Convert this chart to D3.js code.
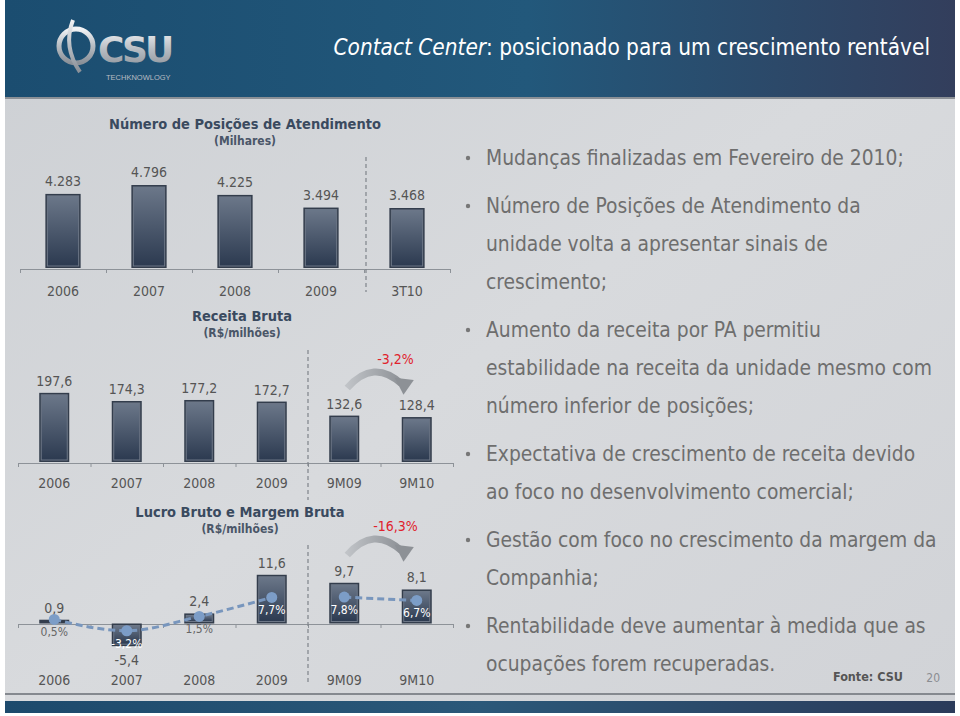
<!DOCTYPE html>
<html>
<head>
  <meta charset="utf-8">
  <title>Contact Center</title>
  <script src="https://d3js.org/d3.v7.min.js"></script>
  <style>
    body { margin: 0; background: #fff; }
    svg { display: block; }
  </style>
</head>
<body>
<script>
  // --- data ---
  const posCats = ["2006", "2007", "2008", "2009", "3T10"];
  const posVals = [4283, 4796, 4225, 3494, 3468];

  const recCats = ["2006", "2007", "2008", "2009", "9M09", "9M10"];
  const recVals = [197.6, 174.3, 177.2, 172.7, 132.6, 128.4];
  const recChange = "-3,2%";

  const lucroCats = ["2006", "2007", "2008", "2009", "9M09", "9M10"];
  const lucroVals = [0.9, -5.4, 2.4, 11.6, 9.7, 8.1];
  const margemVals = [0.5, -3.2, 1.5, 7.7, 7.8, 6.7];
  const lucroChange = "-16,3%";

  const bullets = [
    ["Mudanças finalizadas em Fevereiro de 2010;"],
    ["Número de Posições de Atendimento da", "unidade volta a apresentar sinais de", "crescimento;"],
    ["Aumento da receita por PA permitiu", "estabilidade na receita da unidade mesmo com", "número inferior de posições;"],
    ["Expectativa de crescimento de receita devido", "ao foco no desenvolvimento comercial;"],
    ["Gestão com foco no crescimento da margem da", "Companhia;"],
    ["Rentabilidade deve aumentar à medida que as", "ocupações forem recuperadas."]
  ];

  const FONT = "'DejaVu Sans Condensed', 'DejaVu Sans', sans-serif";
  const br = d3.formatLocale({decimal: ",", thousands: ".", grouping: [3], currency: ["R$", ""], minus: "-"});
  const fThousand = br.format(",d"), fOne = br.format(".1f");

  const W = 960, H = 716;
  const svg = d3.select("body").append("svg").attr("width", W).attr("height", H)
    .style("font-family", FONT);
  const defs = svg.append("defs");

  // gradients
  const bg = defs.append("linearGradient").attr("id", "bg").attr("x1", 0).attr("y1", 0).attr("x2", 1).attr("y2", 1);
  bg.append("stop").attr("offset", 0).attr("stop-color", "#cdd0d4");
  bg.append("stop").attr("offset", 0.5).attr("stop-color", "#d8dadd");
  bg.append("stop").attr("offset", 1).attr("stop-color", "#d1d3d7");

  const hd = defs.append("linearGradient").attr("id", "hd");
  hd.append("stop").attr("offset", 0).attr("stop-color", "#1b4d70");
  hd.append("stop").attr("offset", 0.55).attr("stop-color", "#22587b");
  hd.append("stop").attr("offset", 1).attr("stop-color", "#333e5c");

  const ft = defs.append("linearGradient").attr("id", "ft");
  ft.append("stop").attr("offset", 0).attr("stop-color", "#1d4a6c");
  ft.append("stop").attr("offset", 0.5).attr("stop-color", "#2b5879");
  ft.append("stop").attr("offset", 1).attr("stop-color", "#2b3b5a");

  const bar = defs.append("linearGradient").attr("id", "bar").attr("x1", 0).attr("y1", 0).attr("x2", 0).attr("y2", 1);
  bar.append("stop").attr("offset", 0).attr("stop-color", "#6b7789");
  bar.append("stop").attr("offset", 1).attr("stop-color", "#2c3a50");

  const arr = defs.append("linearGradient").attr("id", "arr");
  arr.append("stop").attr("offset", 0).attr("stop-color", "#c0c3c7");
  arr.append("stop").attr("offset", 1).attr("stop-color", "#8d9196");

  const silver = defs.append("linearGradient").attr("id", "silver").attr("x1", 0).attr("y1", 0).attr("x2", 0).attr("y2", 1);
  silver.append("stop").attr("offset", 0).attr("stop-color", "#f2f3f5");
  silver.append("stop").attr("offset", 0.5).attr("stop-color", "#b7bcc2");
  silver.append("stop").attr("offset", 1).attr("stop-color", "#8a9098");

  // slide background
  svg.append("rect").attr("x", 5).attr("y", 0).attr("width", 950).attr("height", 713).attr("fill", "url(#bg)");

  // header
  svg.append("rect").attr("x", 5).attr("y", 0).attr("width", 950).attr("height", 97).attr("fill", "url(#hd)");
  svg.append("rect").attr("x", 5).attr("y", 97).attr("width", 950).attr("height", 2).attr("fill", "#8b9096");

  const title = svg.append("text").attr("x", 930).attr("y", 55).attr("text-anchor", "end")
    .attr("fill", "#fff").style("font-size", "22.4px");
  title.append("tspan").style("font-style", "italic").text("Contact Center");
  title.append("tspan").text(": posicionado para um crescimento rentável");

  // logo
  const logo = svg.append("g");
  logo.append("ellipse").attr("cx", 76).attr("cy", 46).attr("rx", 17).attr("ry", 17)
    .attr("fill", "none").attr("stroke", "url(#silver)").attr("stroke-width", 5);
  logo.append("path").attr("d", "M73,20 C66,38 69,56 80,72").attr("fill", "none")
    .attr("stroke", "url(#silver)").attr("stroke-width", 4);
  logo.append("text").attr("x", 98).attr("y", 62).attr("fill", "url(#silver)")
    .style("font-family", "'DejaVu Sans', sans-serif").style("font-weight", "bold")
    .style("font-size", "36px").attr("letter-spacing", -3).text("CSU");
  logo.append("text").attr("x", 106).attr("y", 80).attr("fill", "#b8bcc2")
    .style("font-family", "'Liberation Sans', sans-serif").style("font-size", "7.5px").text("TECHKNOWLOGY");

  // footer
  svg.append("rect").attr("x", 5).attr("y", 693).attr("width", 950).attr("height", 2).attr("fill", "#85898f");
  svg.append("rect").attr("x", 5).attr("y", 701).attr("width", 950).attr("height", 12).attr("fill", "url(#ft)");

  // --- helpers ---
  function chartTitle(cx, y, main, sub) {
    svg.append("text").attr("x", cx).attr("y", y).attr("text-anchor", "middle")
      .attr("fill", "#3a4a5f").style("font-size", "14.5px").style("font-weight", "bold").text(main);
    svg.append("text").attr("x", cx).attr("y", y + 16).attr("text-anchor", "middle")
      .attr("fill", "#4a5668").style("font-size", "12px").style("font-weight", "bold").text(sub);
  }

  function axis(cats, x0, x1, yAxis, labelY) {
    const band = d3.scaleBand().domain(cats).range([x0, x1]);
    const edges = d3.scaleLinear().domain([0, cats.length]).range([x0, x1]);
    svg.append("g").attr("transform", `translate(0,${yAxis})`)
      .call(d3.axisBottom(edges).ticks(cats.length).tickSize(4).tickSizeOuter(4).tickFormat(""))
      .call(g => g.selectAll("path,line").attr("stroke", "#8d9298"));
    svg.append("g").attr("transform", `translate(0,${labelY})`)
      .call(d3.axisBottom(band).tickSize(0).tickPadding(0))
      .call(g => g.select(".domain").remove())
      .call(g => g.selectAll("text").attr("fill", "#555").style("font-size", "14px")
        .style("font-family", FONT).attr("dy", 0));
    return {band, edges};
  }

  function divider(x, y0, y1) {
    svg.append("line").attr("x1", x).attr("x2", x).attr("y1", y0).attr("y2", y1)
      .attr("stroke", "#7f848a").attr("stroke-width", 1.2).attr("stroke-dasharray", "4,3");
  }

  function drawBar(g, x, y, w, h) {
    g.append("rect").attr("x", x).attr("y", y).attr("width", w).attr("height", h).attr("fill", "#333d4c");
    if (w > 4 && h > 4)
      g.append("rect").attr("x", x + 2).attr("y", y + 2).attr("width", w - 4).attr("height", h - 4)
        .attr("fill", "url(#bar)").attr("stroke", "#6d7787").attr("stroke-width", 1);
  }

  function changeArrow(xa, xb, yBase, label) {
    const mid = (xa + xb) / 2;
    svg.append("path")
      .attr("d", `M${xa},${yBase} Q${mid - 4},${yBase - 30} ${xb - 6},${yBase - 4}`)
      .attr("fill", "none").attr("stroke", "url(#arr)").attr("stroke-width", 7);
    svg.append("path")
      .attr("d", `M${xb - 15},${yBase - 4} L${xb + 2},${yBase - 13} L${xb + 2},${yBase + 5} Z`)
      .attr("transform", `rotate(35,${xb - 4},${yBase - 4})`)
      .attr("fill", "#8d9196");
    svg.append("text").attr("x", mid + 18).attr("y", yBase - 24).attr("text-anchor", "middle")
      .attr("fill", "#e0222c").style("font-size", "14px").text(label);
  }

  const labelStyle = s => s.attr("fill", "#555").style("font-size", "14px").attr("text-anchor", "middle");

  // --- chart 1: Número de Posições ---
  chartTitle(245, 129, "Número de Posições de Atendimento", "(Milhares)");
  const a1 = axis(posCats, 20, 450, 269, 296);
  const x1 = d3.scaleBand().domain(posCats).range([20, 450]).paddingInner(0.59).paddingOuter(0.295);
  const y1 = d3.scaleLinear().domain([0, 5000]).range([268, 181.5]);
  divider(a1.edges(4) + 2, 157, 292);
  const g1 = svg.append("g");
  posCats.forEach((c, i) => drawBar(g1, x1(c), y1(posVals[i]), x1.bandwidth(), y1(0) - y1(posVals[i])));
  svg.append("g").selectAll("text").data(posVals).join("text")
    .attr("x", (d, i) => x1(posCats[i]) + x1.bandwidth() / 2)
    .attr("y", d => y1(d) - 8)
    .call(labelStyle).text(d => fThousand(d));

  // --- chart 2: Receita Bruta ---
  chartTitle(242, 321, "Receita Bruta", "(R$/milhões)");
  const a2 = axis(recCats, 18, 453, 463, 488);
  const x2 = d3.scaleBand().domain(recCats).range([18, 453]).paddingInner(0.586).paddingOuter(0.293);
  const y2 = d3.scaleLinear().domain([0, 200]).range([462, 392]);
  divider(a2.edges(4), 350, 500);
  const g2 = svg.append("g");
  recCats.forEach((c, i) => drawBar(g2, x2(c), y2(recVals[i]), x2.bandwidth(), y2(0) - y2(recVals[i])));
  svg.append("g").selectAll("text").data(recVals).join("text")
    .attr("x", (d, i) => x2(recCats[i]) + x2.bandwidth() / 2)
    .attr("y", d => y2(d) - 7)
    .call(labelStyle).text(d => fOne(d));
  changeArrow(x2(recCats[4]) + 18, x2(recCats[5]) + 6, 388, recChange);

  // --- chart 3: Lucro Bruto e Margem Bruta ---
  chartTitle(240, 517, "Lucro Bruto e Margem Bruta", "(R$/milhões)");
  const a3 = axis(lucroCats, 18, 453, 624, 685);
  const x3 = d3.scaleBand().domain(lucroCats).range([18, 453]).paddingInner(0.586).paddingOuter(0.293);
  const y3 = d3.scaleLinear().domain([-6, 12]).range([648.7, 573.1]);
  const ym = d3.scaleLinear().domain([-4, 8]).range([633.2, 596.5]);
  divider(a3.edges(4), 545, 684);
  const g3 = svg.append("g");
  lucroCats.forEach((c, i) => {
    const v = lucroVals[i];
    drawBar(g3, x3(c), Math.min(y3(v), y3(0)), x3.bandwidth(), Math.abs(y3(v) - y3(0)));
  });
  const cx3 = i => x3(lucroCats[i]) + x3.bandwidth() / 2;
  svg.append("g").selectAll("text").data(lucroVals).join("text")
    .attr("x", (d, i) => cx3(i))
    .attr("y", d => d >= 0 ? y3(d) - 7 : y3(d) + 19)
    .call(labelStyle).text(d => fOne(d));

  // margin line, split at the divider
  const mLine = d3.line().x(d => cx3(d)).y(d => ym(margemVals[d])).curve(d3.curveMonotoneX);
  [[0, 1, 2, 3], [4, 5]].forEach(seg => {
    svg.append("path").attr("d", mLine(seg)).attr("fill", "none")
      .attr("stroke", "#7896bd").attr("stroke-width", 3).attr("stroke-dasharray", "7,4");
  });
  svg.append("g").selectAll("circle").data(margemVals).join("circle")
    .attr("cx", (d, i) => cx3(i)).attr("cy", d => ym(d)).attr("r", 5.5)
    .attr("fill", "#7c9dc7");
  svg.append("g").selectAll("text").data(margemVals).join("text")
    .attr("x", (d, i) => cx3(i)).attr("y", d => ym(d) + 17)
    .attr("text-anchor", "middle").style("font-size", "12px")
    .attr("fill", (d, i) => Math.abs(y3(lucroVals[i]) - y3(0)) > 20 ? "#fff" : "#666")
    .text(d => fOne(d) + "%");
  changeArrow(x3(lucroCats[4]) + 18, x3(lucroCats[5]) + 6, 555, lucroChange);

  // --- bullets ---
  const tx = 486, lh = 38, gap = 10;
  let yy = 165;
  const tg = svg.append("g").style("font-size", "20.8px").attr("fill", "#6e6e6e");
  bullets.forEach(lines => {
    tg.append("circle").attr("cx", 468).attr("cy", yy - 7).attr("r", 2.2).attr("fill", "#777");
    lines.forEach(l => {
      tg.append("text").attr("x", tx).attr("y", yy).text(l);
      yy += lh;
    });
    yy += gap;
  });

  svg.append("text").attr("x", 903).attr("y", 681).attr("text-anchor", "end")
    .attr("fill", "#555").style("font-size", "12.5px").style("font-weight", "bold").text("Fonte: CSU");
  svg.append("text").attr("x", 940).attr("y", 682).attr("text-anchor", "end")
    .attr("fill", "#8a8d92").style("font-size", "12px").text("20");
</script>
</body>
</html>
